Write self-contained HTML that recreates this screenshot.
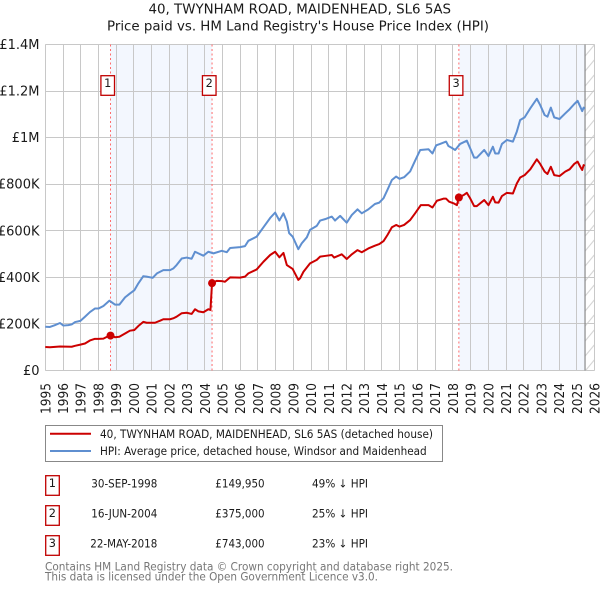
<!DOCTYPE html>
<html>
<head>
<meta charset="utf-8">
<style>
html,body{margin:0;padding:0;background:#fff;width:600px;height:590px;overflow:hidden}
svg{display:block}
text{font-family:"DejaVu Sans","Liberation Sans",sans-serif;fill:#1a1a1a}
</style>
</head>
<body>
<svg id="chart" width="600" height="590" viewBox="0 0 600 590" xmlns="http://www.w3.org/2000/svg">
<defs>
<pattern id="hatch" patternUnits="userSpaceOnUse" width="10" height="15" x="584.7" y="44.5">
<line x1="0" y1="12" x2="10" y2="0" stroke="#cfcfcf" stroke-width="1"/>
</pattern>
</defs>
<text x="148.5" y="13.5" font-size="13" textLength="302.5" lengthAdjust="spacingAndGlyphs">40, TWYNHAM ROAD, MAIDENHEAD, SL6 5AS</text>
<text x="107" y="30.5" font-size="13" textLength="382" lengthAdjust="spacingAndGlyphs">Price paid vs. HM Land Registry's House Price Index (HPI)</text>
<g id="shades"></g>
<g id="grid"></g>
<g id="ticks"></g>
<g id="series"></g>
<g id="events"></g>

<g>
<rect x="45.5" y="425.5" width="397" height="36" fill="#fff" stroke="#888" stroke-width="1"/>
<line x1="50" y1="433.7" x2="91" y2="433.7" stroke="#cc0000" stroke-width="2"/>
<text x="100" y="438.2" font-size="11.3" textLength="333" lengthAdjust="spacingAndGlyphs">40, TWYNHAM ROAD, MAIDENHEAD, SL6 5AS (detached house)</text>
<line x1="50" y1="451" x2="91" y2="451" stroke="#5f8fd0" stroke-width="2"/>
<text x="100" y="455.2" font-size="11.3" textLength="326.7" lengthAdjust="spacingAndGlyphs">HPI: Average price, detached house, Windsor and Maidenhead</text>
</g>

<g>
<rect x="45.7" y="475.7" width="13.6" height="19.6" fill="#fff" stroke="#c00000" stroke-width="1.3"/>
<text x="52.3" y="487" font-size="11.3" text-anchor="middle">1</text>
<text x="91.3" y="487.3" font-size="11.3" textLength="66" lengthAdjust="spacingAndGlyphs">30-SEP-1998</text>
<text x="215.3" y="487.3" font-size="11.3" textLength="49.3" lengthAdjust="spacingAndGlyphs">£149,950</text>
<text x="312" y="487.3" font-size="11.3" textLength="56" lengthAdjust="spacingAndGlyphs">49% ↓ HPI</text>
<rect x="45.7" y="505.7" width="13.6" height="19.6" fill="#fff" stroke="#c00000" stroke-width="1.3"/>
<text x="52.3" y="517" font-size="11.3" text-anchor="middle">2</text>
<text x="91.3" y="517.3" font-size="11.3" textLength="66" lengthAdjust="spacingAndGlyphs">16-JUN-2004</text>
<text x="215.3" y="517.3" font-size="11.3" textLength="49.3" lengthAdjust="spacingAndGlyphs">£375,000</text>
<text x="312" y="517.3" font-size="11.3" textLength="56" lengthAdjust="spacingAndGlyphs">25% ↓ HPI</text>
<rect x="45.7" y="535.7" width="13.6" height="19.6" fill="#fff" stroke="#c00000" stroke-width="1.3"/>
<text x="52.3" y="547" font-size="11.3" text-anchor="middle">3</text>
<text x="90.3" y="547.3" font-size="11.3" textLength="67" lengthAdjust="spacingAndGlyphs">22-MAY-2018</text>
<text x="215.3" y="547.3" font-size="11.3" textLength="49.3" lengthAdjust="spacingAndGlyphs">£743,000</text>
<text x="312" y="547.3" font-size="11.3" textLength="56" lengthAdjust="spacingAndGlyphs">23% ↓ HPI</text>
</g>

<text x="45" y="570.5" font-size="11.3" textLength="408" lengthAdjust="spacingAndGlyphs" style="fill:#777">Contains HM Land Registry data © Crown copyright and database right 2025.</text>
<text x="45" y="580.3" font-size="11.3" textLength="333" lengthAdjust="spacingAndGlyphs" style="fill:#777">This data is licensed under the Open Government Licence v3.0.</text>
</svg>

<script>
const yearTicks = [1995,1996,1997,1998,1999,2000,2001,2002,2003,2004,2005,2006,2007,2008,2009,2010,2011,2012,2013,2014,2015,2016,2017,2018,2019,2020,2021,2022,2023,2024,2025,2026];
const valueTicks = [0,200,400,600,800,1000,1200,1400];
const valueTickLabels = ["£0","£200K","£400K","£600K","£800K","£1M","£1.2M","£1.4M"];
const saleYears = [1998.68,2004.41,2018.34];
const salePrices = [149.95,375,743];
const saleNumbers = ["1","2","3"];
const dataEndYear = 2025.46;

const hpiYears = [1995,1995.26,1995.52,1995.83,1996.02,1996.3,1996.49,1996.68,1996.98,1997.24,1997.52,1997.8,1998,1998.28,1998.62,1998.93,1999.18,1999.5,1999.78,2000.03,2000.25,2000.53,2000.72,2001.06,2001.3,2001.66,2002.04,2002.22,2002.41,2002.7,2002.98,2003.26,2003.45,2003.64,2003.92,2004.2,2004.49,2004.96,2005.24,2005.43,2005.99,2006.27,2006.46,2006.93,2007.31,2007.69,2007.97,2008.21,2008.44,2008.63,2008.76,2008.96,2009.28,2009.47,2009.76,2009.94,2010.32,2010.51,2010.79,2011.17,2011.35,2011.64,2012.01,2012.3,2012.62,2012.86,2013.23,2013.6,2013.85,2014.09,2014.31,2014.56,2014.8,2014.99,2015.25,2015.59,2015.87,2016.16,2016.63,2016.85,2017.06,2017.28,2017.62,2017.75,2017.94,2018.13,2018.41,2018.79,2019.02,2019.2,2019.35,2019.77,2020.01,2020.26,2020.39,2020.58,2020.77,2021.05,2021.39,2021.61,2021.8,2022.05,2022.37,2022.74,2022.93,2023.18,2023.34,2023.53,2023.72,2024.02,2024.34,2024.59,2024.85,2025.04,2025.19,2025.3,2025.38,2025.43];
const hpiValues = [188,187,194,204,193,195,198,208,213,231,251,266,266,277,300,283,283,314,331,345,374,405,403,398,417,431,431,438,453,481,485,480,510,503,493,510,503,514,508,526,530,534,557,575,615,655,678,644,675,640,590,575,521,546,572,604,621,644,650,661,644,664,635,668,692,675,692,715,721,740,776,818,833,823,830,855,901,947,950,932,967,973,983,964,956,947,973,987,947,914,914,947,921,961,932,932,973,990,983,1026,1076,1087,1126,1167,1140,1097,1090,1129,1087,1080,1104,1122,1144,1158,1133,1114,1129,1122];

const paidYears = [1995,1995.26,1995.83,1996.49,1996.68,1996.98,1997.24,1997.52,1997.8,1998,1998.28,1998.67,1998.93,1999.18,1999.5,1999.78,2000.03,2000.25,2000.53,2000.72,2001.19,2001.48,2001.66,2002.04,2002.22,2002.41,2002.7,2002.98,2003.26,2003.45,2003.64,2003.92,2004.2,2004.32,2004.41,2004.67,2004.96,2005.14,2005.43,2005.99,2006.27,2006.46,2006.93,2007.31,2007.69,2007.97,2008.21,2008.44,2008.63,2008.96,2009.28,2009.38,2009.57,2009.94,2010.32,2010.51,2010.79,2011.17,2011.3,2011.73,2012.01,2012.3,2012.62,2012.86,2013.23,2013.6,2013.85,2014.09,2014.31,2014.56,2014.8,2014.99,2015.25,2015.59,2015.87,2016.19,2016.63,2016.85,2017.1,2017.47,2017.62,2017.79,2018.04,2018.23,2018.34,2018.6,2018.79,2018.98,2019.2,2019.35,2019.77,2020.01,2020.26,2020.39,2020.58,2020.77,2021.05,2021.39,2021.61,2021.8,2022.05,2022.37,2022.74,2022.93,2023.18,2023.34,2023.53,2023.72,2024.02,2024.34,2024.59,2024.85,2025.04,2025.19,2025.3,2025.38,2025.43];
const paidValues = [101,100,103,102,106,111,116,129,136,136,137,152,143,145,159,171,174,191,209,205,205,214,220,220,224,231,246,248,243,263,254,250,263,260,375,385,384,381,400,399,403,417,434,467,496,510,486,505,453,436,389,396,424,460,475,489,492,496,485,499,479,499,517,508,524,536,543,556,582,615,625,618,625,646,675,710,710,700,729,738,738,725,718,710,743,753,763,739,706,706,732,710,746,722,721,749,763,760,803,829,839,864,907,887,854,844,875,839,835,854,864,887,897,875,861,882,878];

const svgNS = "http://www.w3.org/2000/svg";
const plot = {left:45.3, right:594.6, top:44.5, bottom:370.5};
const axisX = {min:1995, max:2026};
const axisY = {min:0, max:1400};
function xAt(year){ return plot.left + (year-axisX.min)/(axisX.max-axisX.min)*(plot.right-plot.left); }
function yAt(value){ return plot.bottom - (value-axisY.min)/(axisY.max-axisY.min)*(plot.bottom-plot.top); }
function mk(tag, attrs, parent){
  const e = document.createElementNS(svgNS, tag);
  for (const k in attrs) e.setAttribute(k, attrs[k]);
  parent.appendChild(e);
  return e;
}
function pathOf(xs, vs){
  return xs.map(function(y,i){ return (i?"L":"M")+xAt(y).toFixed(2)+" "+yAt(vs[i]).toFixed(2); }).join(" ");
}

const gShades = document.getElementById("shades");
const gGrid = document.getElementById("grid");
const gTicks = document.getElementById("ticks");
const gSeries = document.getElementById("series");
const gEvents = document.getElementById("events");

/* shaded spans between alternate sales */
const shade1 = mk("rect",{x:xAt(saleYears[0]),y:plot.top,width:xAt(saleYears[1])-xAt(saleYears[0]),height:plot.bottom-plot.top,fill:"#f3f7fe"},gShades);


const shade2 = mk("rect",{x:xAt(saleYears[2]),y:plot.top,width:xAt(dataEndYear)-xAt(saleYears[2]),height:plot.bottom-plot.top,fill:"#f3f7fe"},gShades);


const hatchArea = mk("rect",{x:xAt(dataEndYear),y:plot.top,width:plot.right-xAt(dataEndYear),height:plot.bottom-plot.top,fill:"url(#hatch)"},gShades);



/* grid */
valueTicks.forEach(function(v,i){
  const y = Math.round(yAt(v)-0.5)+0.5;
  const line = mk("line",{x1:plot.left,x2:plot.right,y1:y,y2:y,stroke:"#c8c8c8","stroke-width":1},gGrid);
  
  
  const t = mk("text",{x:39.5,y:yAt(v)+4.5,"font-size":13,"text-anchor":"end"},gTicks);
  t.textContent = valueTickLabels[i];
  
  
});
yearTicks.forEach(function(yr){
  const x = Math.floor(xAt(yr))+0.5;
  const line = mk("line",{x1:x,x2:x,y1:plot.top,y2:plot.bottom,stroke:"#c8c8c8","stroke-width":1},gGrid);
  
  
  const t = mk("text",{transform:"translate("+(xAt(yr)+5)+",414) rotate(-90)","font-size":13,textLength:31,lengthAdjust:"spacingAndGlyphs"},gTicks);
  t.textContent = String(yr);
  
  
});
const endLine = mk("line",{x1:xAt(dataEndYear),x2:xAt(dataEndYear),y1:plot.top,y2:plot.bottom,stroke:"#8a8a8a","stroke-width":1.2},gGrid);



/* sale vlines under the series */
saleYears.forEach(function(yr){
  const l = mk("line",{x1:xAt(yr),x2:xAt(yr),y1:plot.top,y2:plot.bottom,stroke:"#ff6b6b","stroke-width":1,"stroke-dasharray":"2 2.5"},gGrid);
  
  
});

/* series */
const hpiLine = mk("path",{d:pathOf(hpiYears,hpiValues),fill:"none",stroke:"#5f8fd0","stroke-width":2,"stroke-linejoin":"round"},gSeries);


const paidLine = mk("path",{d:pathOf(paidYears,paidValues),fill:"none",stroke:"#cc0000","stroke-width":2,"stroke-linejoin":"round"},gSeries);



/* sale dots and number badges */
saleYears.forEach(function(yr,i){
  const c = mk("circle",{cx:xAt(yr),cy:yAt(salePrices[i]),r:4,fill:"#cc0000"},gEvents);
  
  
  const b = mk("rect",{x:xAt(yr)-9.6,y:75.7,width:13.6,height:19.6,fill:"#fff",stroke:"#c00000","stroke-width":1.3},gEvents);
  
  
  const t = mk("text",{x:xAt(yr)-2.8,y:87,"font-size":11.3,"text-anchor":"middle"},gEvents);
  t.textContent = saleNumbers[i];
  
  
});
</script>
</body>
</html>
